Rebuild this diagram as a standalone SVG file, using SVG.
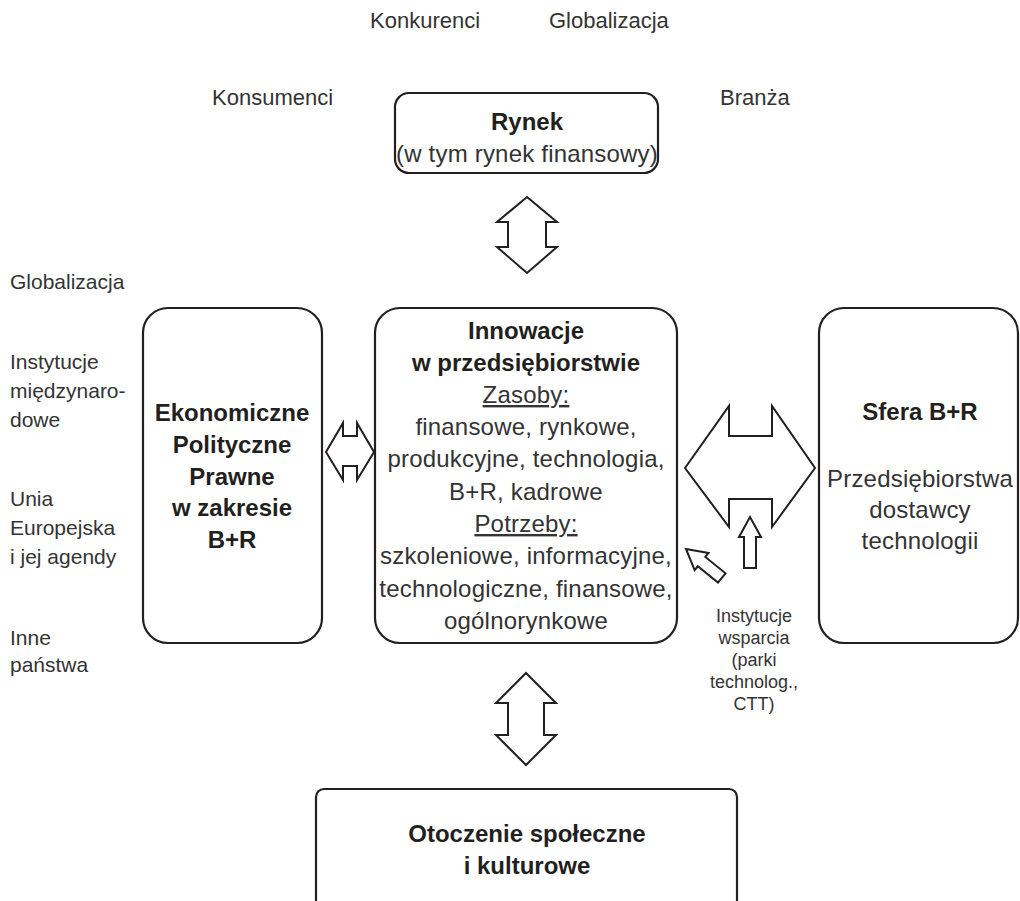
<svg xmlns="http://www.w3.org/2000/svg" width="1020" height="901" viewBox="0 0 1020 901">
<style>
.box{fill:#fff;stroke:#231f20;stroke-width:2.2}
.arr{fill:#fff;stroke:#231f20;stroke-width:2;stroke-linejoin:miter}
text{font-family:"Liberation Sans",Arial,Helvetica,sans-serif;fill:#333}
.n{font-size:24px;text-anchor:middle;letter-spacing:0.2px}
.b{font-size:24px;font-weight:bold;text-anchor:middle;fill:#231f20}
.lab{font-size:22px}
.side{font-size:21px}
.sm{font-size:18px;text-anchor:middle}
.u{text-decoration:underline}
</style>
<rect width="1020" height="901" fill="#fff"/>
<g id="labels-top">
<text class="lab" x="370" y="28">Konkurenci</text>
<text class="lab" x="549" y="28">Globalizacja</text>
<text class="lab" x="212" y="105">Konsumenci</text>
<text class="lab" x="720" y="105">Branża</text>
</g>
<g id="labels-left">
<text class="side" x="10" y="289">Globalizacja</text>
<text class="side" x="10" y="369">Instytucje</text>
<text class="side" x="10" y="398">międzynaro-</text>
<text class="side" x="10" y="427">dowe</text>
<text class="side" x="10" y="506">Unia</text>
<text class="side" x="10" y="535">Europejska</text>
<text class="side" x="10" y="564">i jej agendy</text>
<text class="side" x="10" y="645">Inne</text>
<text class="side" x="10" y="672">państwa</text>
</g>
<g id="rynek">
<rect class="box" x="395" y="93" width="263" height="80" rx="14"/>
<text class="b" x="527" y="130">Rynek</text>
<text class="n" x="527" y="162">(w tym rynek finansowy)</text>
</g>
<g id="innowacje">
<rect class="box" x="375" y="308" width="302" height="335" rx="25"/>
<text class="b" x="526" y="339">Innowacje</text>
<text class="b" x="526" y="371">w przedsiębiorstwie</text>
<text class="n u" x="526" y="403">Zasoby:</text>
<text class="n" x="526" y="435">finansowe, rynkowe,</text>
<text class="n" x="526" y="467">produkcyjne, technologia,</text>
<text class="n" x="526" y="500">B+R, kadrowe</text>
<text class="n u" x="526" y="532">Potrzeby:</text>
<text class="n" x="526" y="564">szkoleniowe, informacyjne,</text>
<text class="n" x="526" y="597">technologiczne, finansowe,</text>
<text class="n" x="526" y="629">ogólnorynkowe</text>
</g>
<g id="otoczenie-prawne">
<rect class="box" x="143" y="308" width="179" height="335" rx="25"/>
<text class="b" x="232" y="421">Ekonomiczne</text>
<text class="b" x="232" y="453">Polityczne</text>
<text class="b" x="232" y="485">Prawne</text>
<text class="b" x="232" y="516">w zakresie</text>
<text class="b" x="232" y="548">B+R</text>
</g>
<g id="sfera-br">
<rect class="box" x="819" y="308" width="199" height="335" rx="25"/>
<text class="b" x="920" y="420">Sfera B+R</text>
<text class="n" x="920" y="487">Przedsiębiorstwa</text>
<text class="n" x="920" y="518">dostawcy</text>
<text class="n" x="920" y="549">technologii</text>
</g>
<g id="instytucje-wsparcia">
<text class="sm" x="754" y="622">Instytucje</text>
<text class="sm" x="754" y="644">wsparcia</text>
<text class="sm" x="754" y="666">(parki</text>
<text class="sm" x="754" y="688">technolog.,</text>
<text class="sm" x="754" y="710">CTT)</text>
</g>
<g id="otoczenie-spoleczne">
<rect class="box" x="316" y="789" width="421" height="140" rx="8"/>
<text class="b" x="527" y="842">Otoczenie społeczne</text>
<text class="b" x="527" y="874">i kulturowe</text>
</g>
<g id="connectors">
<path class="arr" d="M527,197 L557,222 L546,222 L546,247 L557,247 L527,273 L497,247 L508,247 L508,222 L497,222 Z"/>
<path class="arr" d="M526,673 L556,703 L544,703 L544,735 L556,735 L526,765 L496,735 L508,735 L508,703 L496,703 Z"/>
<path class="arr" d="M326,452 L343,423 L343,436 L357,436 L357,423 L374,452 L357,480 L357,466 L343,466 L343,480 Z"/>
<path class="arr" d="M685,468 L729,406 L729,436 L772,436 L772,406 L815,468 L772,527 L772,499 L729,499 L729,527 Z"/>
<path class="arr" transform="translate(750,517)" d="M0,0 L11,20 L6,20 L6,51 L-6,51 L-6,20 L-11,20 Z"/>
<path class="arr" transform="translate(686,549) rotate(-51)" d="M0,0 L11,20 L6,20 L6,46 L-6,46 L-6,20 L-11,20 Z"/>
</g>
</svg>
